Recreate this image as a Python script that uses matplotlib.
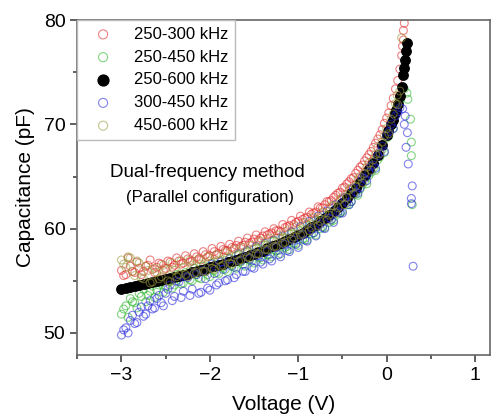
import matplotlib
matplotlib.use("Agg")
import matplotlib.pyplot as plt
from matplotlib.ticker import MultipleLocator

plt.rcParams['font.family'] = ['Liberation Sans', 'DejaVu Sans']

# voltage sweep shared by the open-circle series (V)
v_grid = [-3.00, -2.95, -2.90, -2.85, -2.80, -2.75, -2.70, -2.65, -2.60, -2.55,
          -2.50, -2.45, -2.40, -2.35, -2.30, -2.25, -2.20, -2.15, -2.10, -2.05,
          -2.00, -1.95, -1.90, -1.85, -1.80, -1.75, -1.70, -1.65, -1.60, -1.55,
          -1.50, -1.45, -1.40, -1.35, -1.30, -1.25, -1.20, -1.15, -1.10, -1.05,
          -1.00, -0.95, -0.90, -0.85, -0.80, -0.75, -0.70, -0.65, -0.60, -0.55,
          -0.50, -0.45, -0.40, -0.35, -0.30, -0.25, -0.20, -0.15, -0.10, -0.05,
          0.00, 0.05, 0.10, 0.15]
v_half = [-2.975, -2.925, -2.875, -2.825, -2.775, -2.725, -2.675, -2.625, -2.575, -2.525,
          -2.475, -2.425, -2.375, -2.325, -2.275, -2.225, -2.175, -2.125, -2.075, -2.025,
          -1.975, -1.925, -1.875, -1.825, -1.775, -1.725, -1.675, -1.625, -1.575, -1.525,
          -1.475, -1.425, -1.375, -1.325, -1.275, -1.225, -1.175, -1.125, -1.075, -1.025,
          -0.975, -0.925, -0.875, -0.825, -0.775, -0.725, -0.675, -0.625, -0.575, -0.525,
          -0.475, -0.425, -0.375, -0.325, -0.275, -0.225, -0.175, -0.125, -0.075, -0.025,
          0.025, 0.075, 0.125]

# capacitance (pF), on v_grid
c_250_300 = [56.0, 55.6, 56.4, 55.8, 56.2, 55.9, 56.5, 56.1, 56.3, 56.6,
             56.2, 56.8, 56.5, 56.9, 56.7, 57.1, 56.9, 57.3, 57.0, 57.5,
             57.4, 57.8, 57.6, 58.0, 57.9, 58.2, 58.4, 58.3, 58.7, 58.6,
             59.0, 58.9, 59.3, 59.4, 59.6, 59.8, 59.7, 60.1, 60.3, 60.4,
             60.7, 60.9, 61.1, 61.4, 61.6, 62.0, 62.3, 62.6, 63.0, 63.4,
             63.9, 64.3, 64.8, 65.3, 65.9, 66.5, 67.1, 67.8, 68.6, 69.5,
             70.6, 71.8, 73.4, 75.3]
c_250_450 = [51.8, 52.6, 53.3, 52.9, 53.8, 54.2, 53.6, 54.5, 54.1, 54.8,
             54.4, 55.0, 54.6, 55.3, 54.8, 55.5, 55.0, 55.6, 55.2, 55.9,
             55.4, 56.0, 55.7, 56.3, 55.9, 56.5, 56.2, 56.8, 56.4, 57.0,
             56.7, 57.3, 57.0, 57.5, 57.3, 57.9, 57.6, 58.2, 58.0, 58.6,
             58.4, 59.0, 58.9, 59.5, 59.4, 60.0, 60.1, 60.6, 60.8, 61.4,
             61.7, 62.3, 62.6, 63.3, 63.8, 64.5, 65.1, 65.8, 66.6, 67.6,
             68.7, 69.8, 71.0, 72.3]
c_300_450 = [49.8, 50.5, 51.2, 50.9, 52.0, 51.6, 52.6, 52.3, 53.3, 52.9,
             53.8, 54.6, 53.5, 54.9, 54.0, 55.3, 54.2, 55.6, 53.9, 55.2,
             54.1, 55.7, 54.8, 56.1, 55.1, 56.4, 55.6, 56.9, 55.9, 57.1,
             56.2, 57.4, 56.6, 57.8, 56.9, 58.2, 57.3, 58.5, 57.8, 58.9,
             58.2, 59.4, 58.8, 59.9, 59.3, 60.4, 60.0, 61.0, 60.6, 61.6,
             61.5, 62.5, 62.6, 63.5, 63.9, 64.8, 65.4, 66.1, 67.0, 67.9,
             68.9, 70.0, 70.8, 71.6]
c_450_600 = [57.0, 56.3, 57.2, 55.5, 56.7, 55.2, 56.0, 54.9, 55.8, 55.4,
             56.1, 54.9, 56.0, 55.6, 56.3, 55.4, 56.5, 55.8, 56.6, 55.9,
             56.9, 56.1, 57.0, 56.5, 57.3, 56.6, 57.5, 57.0, 57.8, 57.2,
             58.1, 57.6, 58.5, 58.0, 58.8, 58.3, 59.1, 58.7, 59.5, 59.2,
             59.9, 59.5, 60.4, 60.1, 60.9, 60.7, 61.5, 61.3, 62.2, 62.0,
             63.0, 63.0, 63.9, 64.1, 65.0, 65.3, 66.3, 66.6, 67.8, 68.3,
             69.6, 70.5, 72.0, 73.2]

# second reading of each series, on v_half
c2_250_300 = [55.5, 57.2, 55.9, 56.8, 55.6, 56.4, 57.0, 55.8, 56.7, 56.0,
              56.9, 56.3, 57.2, 56.6, 57.4, 56.8, 57.6, 57.1, 57.8, 57.3,
              58.1, 57.5, 58.3, 57.9, 58.5, 58.1, 58.8, 58.4, 59.1, 58.7,
              59.4, 59.1, 59.7, 59.5, 60.0, 59.8, 60.4, 60.2, 60.8, 60.6,
              61.2, 61.0, 61.6, 61.5, 62.1, 62.0, 62.6, 62.7, 63.2, 63.5,
              64.0, 64.5, 64.9, 65.6, 66.1, 66.8, 67.4, 68.2, 69.0, 70.1,
              71.1, 72.5, 74.2]
c2_250_450 = [52.3, 51.5, 53.0, 52.4, 53.5, 53.0, 54.0, 53.4, 54.6, 53.9,
              55.1, 54.3, 55.6, 54.7, 55.8, 55.1, 56.2, 55.3, 56.4, 55.6,
              56.7, 55.8, 56.9, 56.1, 57.2, 56.3, 57.5, 56.6, 57.8, 56.9,
              58.1, 57.2, 58.4, 57.5, 58.8, 57.9, 59.1, 58.3, 59.5, 58.6,
              59.8, 59.1, 60.3, 59.6, 60.8, 60.2, 61.3, 60.8, 61.9, 61.5,
              62.6, 62.3, 63.3, 63.2, 64.2, 64.3, 65.4, 65.6, 66.9, 67.3,
              68.9, 69.6, 71.4]
c2_300_450 = [50.3, 50.0, 51.7, 51.0, 52.5, 51.8, 53.1, 52.4, 53.6, 52.6,
              54.2, 53.1, 55.0, 53.4, 55.4, 53.6, 55.8, 53.8, 56.0, 54.3,
              56.6, 54.6, 56.8, 55.0, 57.1, 55.3, 57.6, 55.9, 57.9, 56.3,
              58.3, 56.8, 58.6, 57.1, 58.9, 57.5, 59.3, 57.9, 59.7, 58.5,
              60.2, 58.9, 60.7, 59.6, 61.2, 60.1, 61.7, 60.9, 62.3, 61.5,
              63.0, 62.3, 63.9, 63.4, 64.9, 64.6, 66.0, 65.8, 67.3, 67.4,
              69.3, 69.6, 71.2]
c2_450_600 = [56.6, 57.3, 55.9, 56.9, 55.3, 56.4, 54.8, 56.2, 55.2, 56.5,
              55.0, 56.7, 55.4, 56.9, 55.6, 57.0, 55.7, 57.1, 55.9, 57.3,
              56.2, 57.5, 56.4, 57.7, 56.7, 58.0, 56.9, 58.2, 57.3, 58.4,
              57.6, 58.8, 58.0, 59.1, 58.3, 59.4, 58.6, 59.8, 59.0, 60.2,
              59.4, 60.6, 59.8, 61.1, 60.3, 61.6, 60.8, 62.2, 61.5, 62.8,
              62.3, 63.7, 63.3, 64.7, 64.4, 65.9, 65.6, 67.1, 67.2, 68.9,
              69.1, 71.0, 71.9]

# points past the end of the sweep near the breakdown edge
v_tail_250_300 = [0.17, 0.18, 0.19, 0.19, 0.20]
c_tail_250_300 = [76.6, 77.5, 78.1, 79.0, 79.7]
v_tail_250_450 = [0.20, 0.23, 0.24, 0.27, 0.28, 0.28, 0.29]
c_tail_250_450 = [73.4, 73.0, 72.4, 70.5, 68.3, 67.0, 62.3]
v_tail_300_450 = [0.18, 0.20, 0.21, 0.22, 0.235, 0.245, 0.28, 0.29, 0.28, 0.30]
c_tail_300_450 = [71.5, 70.0, 70.8, 67.8, 69.2, 66.2, 62.9, 64.1, 62.4, 56.4]
v_tail_450_600 = [0.12, 0.17]
c_tail_450_600 = [72.8, 78.3]

# combined 250-600 kHz result
v_250_600 = [-3.00, -2.95, -2.90, -2.85, -2.80, -2.75, -2.70, -2.65, -2.60, -2.55,
             -2.50, -2.45, -2.40, -2.35, -2.30, -2.25, -2.20, -2.15, -2.10, -2.05,
             -2.00, -1.95, -1.90, -1.85, -1.80, -1.75, -1.70, -1.65, -1.60, -1.55,
             -1.50, -1.45, -1.40, -1.35, -1.30, -1.25, -1.20, -1.15, -1.10, -1.05,
             -1.00, -0.95, -0.90, -0.85, -0.80, -0.75, -0.70, -0.65, -0.60, -0.55,
             -0.50, -0.45, -0.40, -0.35, -0.30, -0.25, -0.20, -0.15, -0.10, -0.05,
             0.00, 0.02, 0.05, 0.07, 0.10, 0.11, 0.13, 0.15, 0.17, 0.19,
             0.20, 0.21, 0.22, 0.23]
c_250_600 = [54.2, 54.3, 54.4, 54.5, 54.6, 54.7, 54.8, 54.9, 55.0, 55.1,
             55.2, 55.3, 55.4, 55.5, 55.6, 55.7, 55.8, 55.9, 56.0, 56.1,
             56.3, 56.4, 56.5, 56.6, 56.8, 56.9, 57.0, 57.2, 57.3, 57.5,
             57.6, 57.8, 57.9, 58.1, 58.3, 58.4, 58.6, 58.8, 59.0, 59.2,
             59.4, 59.6, 59.9, 60.2, 60.4, 60.7, 61.0, 61.3, 61.7, 62.1,
             62.5, 62.9, 63.4, 63.9, 64.5, 65.1, 65.7, 66.3, 67.1, 68.0,
             69.0, 69.4, 70.0, 70.4, 71.1, 71.4, 72.0, 72.7, 73.6, 74.7,
             75.4, 76.2, 77.0, 77.8]

fig = plt.figure(figsize=(4.92, 4.18), dpi=100)
ax = fig.add_axes([0.157, 0.151, 0.839, 0.801])

open_kw = dict(s=32, facecolors='none', linewidths=0.8, alpha=0.58)

ax.scatter(v_grid + v_half + v_tail_250_300, c_250_300 + c2_250_300 + c_tail_250_300,
           edgecolors='#e02828', label='250-300 kHz', **open_kw)
ax.scatter(v_grid + v_half + v_tail_250_450, c_250_450 + c2_250_450 + c_tail_250_450,
           edgecolors='#28b428', label='250-450 kHz', **open_kw)
ax.scatter(v_250_600, c_250_600, s=46, color='black', label='250-600 kHz')
ax.scatter(v_grid + v_half + v_tail_300_450, c_300_450 + c2_300_450 + c_tail_300_450,
           edgecolors='#2828dc', label='300-450 kHz', **open_kw)
ax.scatter(v_grid + v_half + v_tail_450_600, c_450_600 + c2_450_600 + c_tail_450_600,
           edgecolors='#9a9a3c', label='450-600 kHz', **open_kw)

ax.set_xlim(-3.5, 1.17)
ax.set_ylim(47.9, 80)
ax.xaxis.set_major_locator(MultipleLocator(1))
ax.xaxis.set_minor_locator(MultipleLocator(0.5))
ax.yaxis.set_major_locator(MultipleLocator(10))
ax.yaxis.set_minor_locator(MultipleLocator(5))
ax.tick_params(which='both', direction='out', colors='#444444', labelcolor='black',
               labelsize=14, top=False, right=False)
ax.tick_params(which='major', length=5, width=1.2)
ax.tick_params(which='minor', length=3, width=1.2)
for sp in ax.spines.values():
    sp.set_color('#666666')
    sp.set_linewidth(1.2)

ax.set_xlabel('Voltage (V)', fontsize=15, labelpad=8)
ax.set_ylabel('Capacitance (pF)', fontsize=15, labelpad=6)

ax.text(-2.03, 65.4, 'Dual-frequency method', fontsize=13.5, ha='center', va='center')
ax.text(-2.0, 63.0, '(Parallel configuration)', fontsize=12, ha='center', va='center')

leg = ax.legend(loc='upper left', borderaxespad=0, fancybox=False, framealpha=1,
                edgecolor='#bbbbbb', fontsize=12, labelspacing=0.47,
                handlelength=2.3, handletextpad=0.7, markerscale=1.15,
                borderpad=0.4)
leg.get_frame().set_linewidth(1.0)

fig.savefig('out.png', dpi=100)
